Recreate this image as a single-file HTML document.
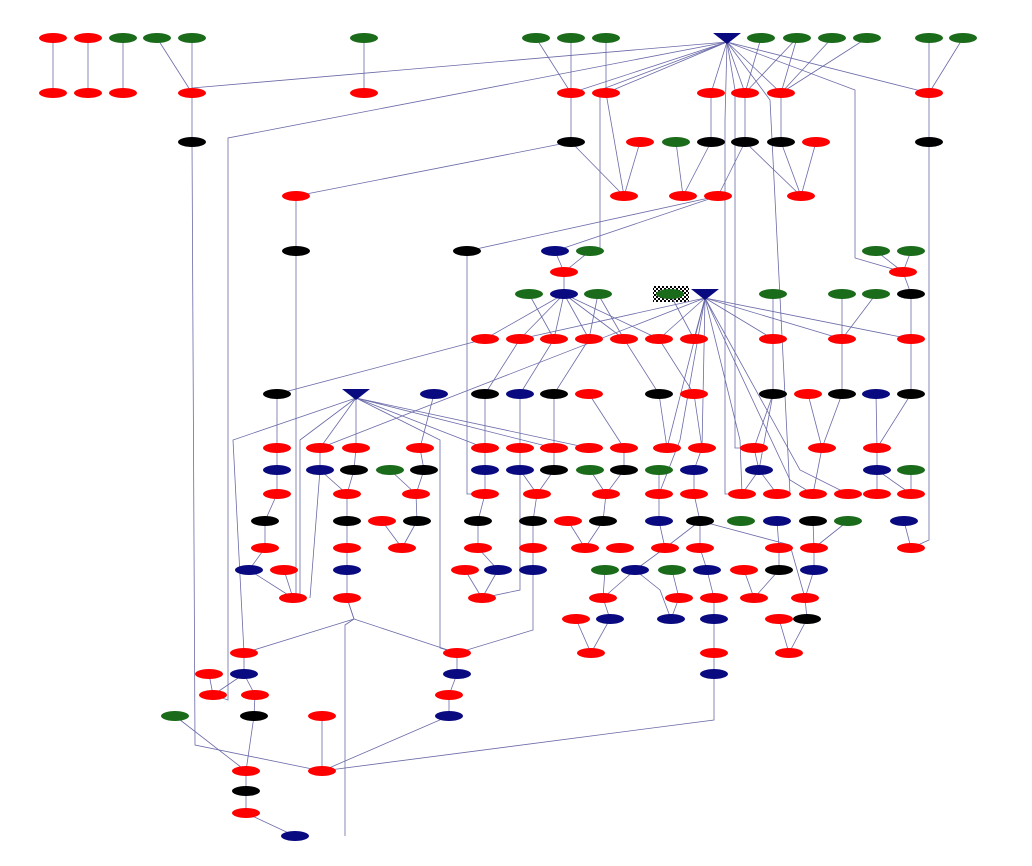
<!DOCTYPE html>
<html><head><meta charset="utf-8"><style>html,body{margin:0;padding:0;background:#fff;width:1032px;height:866px;overflow:hidden}svg{display:block}</style></head>
<body>
<svg id="s" width="1032" height="866" xmlns="http://www.w3.org/2000/svg">
<defs><pattern id="chk" width="4" height="4" patternUnits="userSpaceOnUse"><rect width="4" height="4" fill="#fff"/><rect width="2" height="2" fill="#000"/><rect x="2" y="2" width="2" height="2" fill="#000"/></pattern></defs>
<rect x="653" y="286" width="36" height="16" fill="url(#chk)"/>
<g id="e" stroke="#6a6aa8" stroke-width="0.8" fill="none"></g>
<g id="n"></g>
</svg>
<script>
var C={r:"#f00",g:"#1a6b1a",k:"#000",b:"#0a0a80"};
var N=[
[38,"r53 r88 g123 g157 g192 g364 g536 g571 g606 g761 g797 g832 g867 g929 g963"],
[93,"r53 r88 r123 r192 r364 r571 r606 r711 r745 r781 r929"],
[142,"k192 k571 r640 g676 k711 k745 k781 r816 k929"],
[196,"r296 r624 r683 r718 r801"],
[251,"k296 k467 b555 g590 g876 g911"],
[272,"r564 r903"],
[294,"g529 b564 g598 g670 g773 g842 g876 k911"],
[339,"r485 r520 r554 r589 r624 r659 r694 r773 r842 r911"],
[394,"k277 b434 k485 b520 k554 r589 k659 r694 k773 r808 k842 b876 k911"],
[448,"r277 r320 r356 r420 r485 r520 r554 r589 r624 r667 r702 r754 r822 r877"],
[470,"b277 b320 k354 g390 k424 b485 b520 k554 g590 k624 g659 b694 b759 b877 g911"],
[494,"r277 r347 r416 r485 r537 r606 r659 r694 r742 r777 r813 r848 r877 r911"],
[521,"k265 k347 r382 k417 k478 k533 r568 k603 b659 k700 g741 b777 k813 g848 b904"],
[548,"r265 r347 r402 r478 r533 r585 r620 r665 r700 r779 r814 r911"],
[570,"b249 r284 b347 r465 b498 b533 g605 b635 g672 b707 r744 k779 b814"],
[598,"r293 r347 r482 r603 r679 r714 r754 r805"],
[619,"r576 b610 b671 b714 r779 k807"],
[653,"r244 r457 r591 r714 r789"],
[674,"r209 b244 b457 b714"],
[695,"r213 r255 r449"],
[716,"g175 k254 r322 b449"],
[771,"r246 r322"],[791,"k246"],[813,"r246"],[836,"b295"]];
var E=[
[53,38,53,93],[88,38,88,93],[123,38,123,93],[157,38,192,93],[192,38,192,93],[364,38,364,93],[536,38,571,93],[571,38,571,93],[606,38,606,93],
[727,42,192,88],[727,42,571,93],[727,42,606,93],[727,42,711,93],[727,42,745,93],[727,42,781,93],[727,42,929,93],[727,42,228,138,228,700,213,695],
[727,42,735,90,735,448,754,448],[727,42,725,120,725,494,742,494],[727,42,770,100,790,494,777,494],[727,42,855,90,855,258,903,272],[727,42,600,90,600,250],
[761,38,745,93],[797,38,781,93],[797,38,745,93],[832,38,781,93],[867,38,781,93],[929,38,929,93],[963,38,929,93],
[192,93,192,142],[192,142,195,745,322,771],[571,93,571,142],[571,142,624,196],[571,142,296,196],[606,93,624,196],[640,142,624,196],[676,142,683,196],
[711,93,711,142],[711,142,683,196],[745,93,745,142],[745,142,718,196],[745,142,801,196],[781,93,781,142],[781,142,801,196],[816,142,801,196],
[929,93,929,142],[929,142,929,540,911,548],[296,196,296,251],[296,251,296,598],[718,196,467,251],[718,196,555,251],[467,251,467,494,485,494],
[555,251,564,272],[590,251,564,272],[564,272,564,294],[564,294,485,339],[564,294,520,339],[564,294,554,339],[564,294,589,339],[564,294,624,339],[564,294,659,339],
[529,294,554,339],[598,294,589,339],[598,294,624,339],[670,294,694,339],[485,339,277,394],[520,339,485,394],[554,339,520,394],[589,339,554,394],[624,339,659,394],[659,339,694,394],
[705,298,520,339],[705,298,659,339],[705,298,694,339],[705,298,773,339],[705,298,842,339],[705,298,911,339],[705,298,320,448],[705,298,702,448],[705,298,667,448],[705,298,740,440,742,494],[705,298,790,480,813,494],[705,298,800,470,848,494],[705,298,680,440,659,494],
[876,251,903,272],[911,251,903,272],[903,272,911,294],[911,294,911,339],[911,339,911,394],[911,394,877,448],[877,448,877,470],[877,470,877,494],[877,470,911,494],[911,470,911,494],[904,521,911,548],
[773,294,773,339],[773,339,773,394],[773,394,754,448],[773,394,759,470],[842,294,842,339],[876,294,842,339],[842,339,842,394],[842,394,822,448],[808,394,822,448],[876,394,877,448],
[659,394,667,448],[694,394,702,448],[589,394,624,448],[554,394,554,448],[520,394,520,448],[485,394,485,448],[434,394,420,448],[277,394,277,448],
[356,398,320,448],[356,398,356,448],[356,398,233,440,244,653],[356,398,300,440,300,598,293,598],[356,398,440,440,440,648,457,653],[356,398,485,448],[356,398,554,448],[356,398,589,448],
[277,448,277,470],[277,470,277,494],[320,448,320,470],[320,470,347,494],[356,448,354,470],[354,470,347,494],[390,470,416,494],[420,448,424,470],[424,470,416,494],
[485,448,485,470],[485,470,485,494],[520,448,520,470],[520,470,537,494],[554,448,554,470],[554,470,537,494],[590,470,606,494],[624,448,624,470],[624,470,606,494],[659,470,659,494],[702,448,694,470],[694,470,694,494],
[754,448,759,470],[759,470,742,494],[759,470,777,494],[822,448,813,494],
[277,494,265,521],[265,521,265,548],[265,548,249,570],[249,570,293,598],[284,570,293,598],[320,470,310,598],[347,494,347,521],[347,521,347,548],[347,548,347,570],[347,570,347,598],[347,598,354,619],
[382,521,402,548],[417,521,402,548],[416,494,417,521],[485,494,478,521],[478,521,478,548],[478,548,498,570],[498,570,482,598],[465,570,482,598],[533,521,533,548],[533,548,533,570],[533,570,533,630,457,653],[537,494,533,521],[520,470,520,590,482,598],
[568,521,585,548],[603,521,585,548],[606,494,603,521],[659,494,659,521],[659,521,665,548],[700,521,665,548],[700,521,700,548],[694,494,700,521],[665,548,635,570],[700,548,707,570],[707,570,714,598],[635,570,603,598],[605,570,603,598],[672,570,679,598],[635,570,660,590,671,619],
[603,598,610,619],[576,619,591,653],[610,619,591,653],[679,598,671,619],[714,598,714,619],[714,619,714,653],[714,653,714,674],[714,674,714,720,322,771],
[744,570,754,598],[779,570,754,598],[777,521,779,548],[779,548,779,570],[813,521,814,548],[814,548,814,570],[814,570,805,598],[805,598,807,619],[779,619,789,653],[807,619,789,653],[848,521,814,548],[700,521,790,545,805,598],
[347,598,354,619],[354,619,244,653],[354,619,457,653],[244,653,244,674],[244,674,255,695],[209,674,213,695],[244,674,213,695],[457,653,457,674],[457,674,449,695],[449,695,449,716],[449,716,322,771],
[255,695,254,716],[254,716,246,771],[175,716,246,771],[322,716,322,771],[246,771,246,791],[246,791,246,813],[246,813,295,836],[345,836,345,625,354,619]];
var ns="http://www.w3.org/2000/svg",eg=document.getElementById("e"),ng=document.getElementById("n");
E.forEach(function(a){var p=document.createElementNS(ns,"polyline");var pts=[];for(var i=0;i<a.length;i+=2)pts.push(a[i]+","+a[i+1]);p.setAttribute("points",pts.join(" "));eg.appendChild(p);});
N.forEach(function(r){r[1].split(" ").forEach(function(t){var e=document.createElementNS(ns,"ellipse");e.setAttribute("cx",t.slice(1));e.setAttribute("cy",r[0]);e.setAttribute("rx",14);e.setAttribute("ry",5);e.setAttribute("fill",C[t[0]]);ng.appendChild(e);});});
</script>
<svg style="position:absolute;left:0;top:0" width="1032" height="866">
<polygon points="713,33 741,33 727,44" fill="#0a0a80"/>
<polygon points="691,289 719,289 705,300" fill="#0a0a80"/>
<polygon points="342,389 370,389 356,400" fill="#0a0a80"/>
<text x="0" y="0" font-size="1" fill="#fff">graph</text>
</svg>
</body></html>
